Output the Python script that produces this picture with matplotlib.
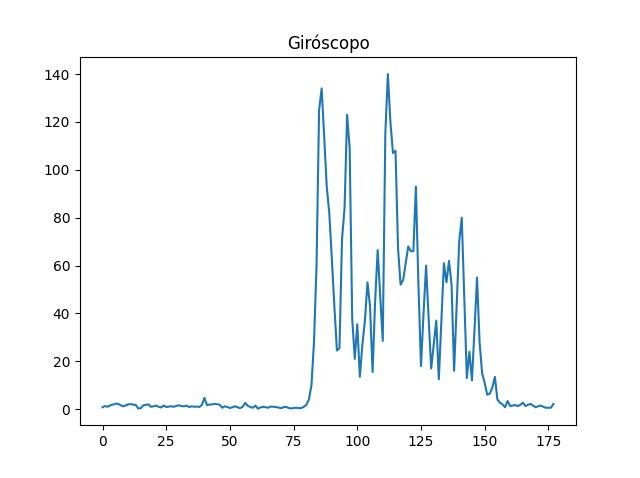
import matplotlib
matplotlib.use("Agg")
import matplotlib.pyplot as plt

title = "Giróscopo"

values_low = [0.8, 1.3, 1.0, 1.6, 1.9, 2.2, 2.3, 1.7, 1.2, 1.5,
              2.0, 2.1, 1.9, 1.8, 0.3, 0.4, 1.6, 1.8, 2.0, 1.0,
              1.2, 1.5, 1.0, 0.7, 1.5, 0.9, 1.1, 1.2, 1.0, 1.4,
              1.6, 1.3, 1.2, 1.5, 0.9, 1.2, 1.0, 1.1, 0.9, 1.8,
              4.7, 1.7, 1.9, 2.0, 2.2, 2.1, 1.8, 0.6, 1.2, 0.9,
              0.5, 0.8, 1.2, 0.8, 0.4, 1.0, 2.6, 1.4, 0.9, 0.6,
              1.5, 0.2, 0.7, 1.0, 0.8, 0.6, 1.1, 1.0, 0.9, 0.7,
              0.4, 0.8, 1.0, 0.5, 0.3, 0.5, 0.6, 0.4, 0.5, 1.0]
values_active = [1.8, 4, 10, 28, 60, 125, 134, 114, 93, 82,
                 63, 43, 24.5, 25.5, 71, 84, 123, 109, 38, 21,
                 35.5, 13.5, 27, 37, 53, 43, 15.5, 45, 66.5, 47,
                 28.5, 115, 140, 120, 107, 108, 67, 52, 54, 61,
                 68, 66, 66, 93, 52, 18, 40, 60, 38, 17,
                 27, 37, 12.5, 37, 61, 53, 62, 52, 16, 43,
                 70, 80, 46, 13, 24, 12, 33, 55, 28, 15,
                 11, 6, 6.5, 9, 13.5, 4]
values_tail = [2.7, 2.0, 0.8, 3.4, 1.3, 1.5, 1.7, 1.3, 1.8, 2.7,
               1.3, 1.8, 2.2, 1.5, 0.8, 1.2, 1.5, 1.0, 0.6, 0.6,
               0.6, 2.2]

values = values_low + values_active + values_tail

fig, ax = plt.subplots(figsize=(6.4, 4.78), dpi=100)
ax.plot(range(len(values)), values)
ax.set_title(title)
fig.savefig("out.png", dpi=100)
